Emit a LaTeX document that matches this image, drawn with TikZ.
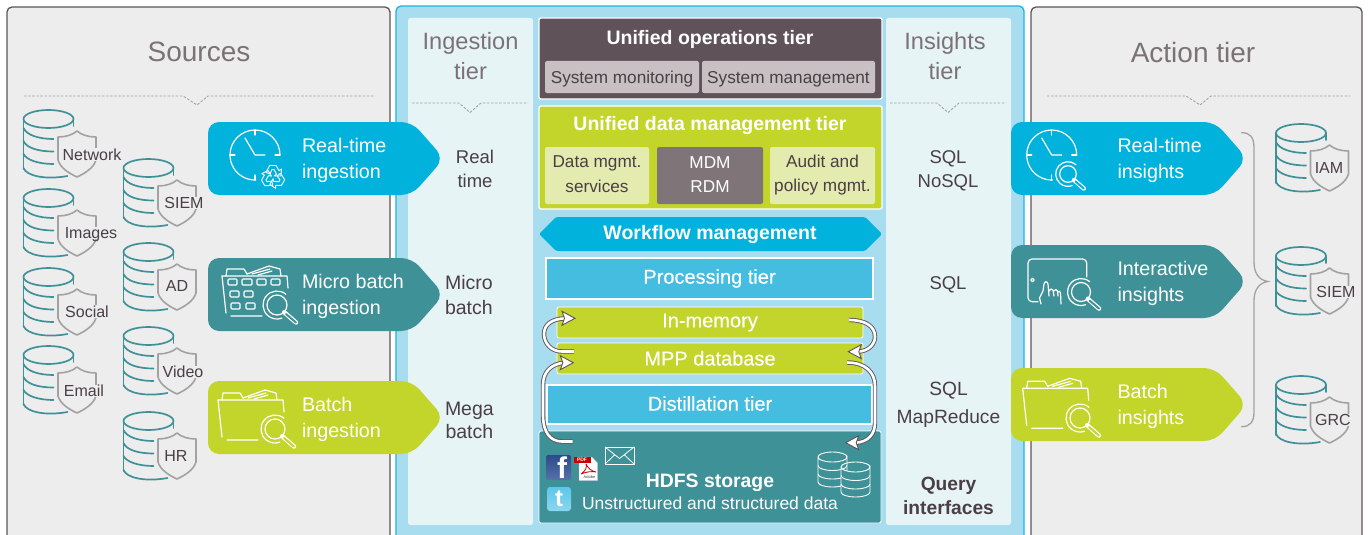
\documentclass[tikz,border=0pt]{standalone}
\usepackage{fontspec}
\setmainfont{Liberation Sans}
\newfontfamily\medfont[FakeBold=0.35]{Liberation Sans}
\definecolor{panel}{HTML}{EDEDED}
\definecolor{frame}{HTML}{5F5259}
\definecolor{sky}{HTML}{A8DDF0}
\definecolor{skyline}{HTML}{1DB5E0}
\definecolor{pale}{HTML}{E6F4F5}
\definecolor{blue}{HTML}{00B2DC}
\definecolor{midblue}{HTML}{45BDE0}
\definecolor{teal}{HTML}{3F9198}
\definecolor{lime}{HTML}{C3D52B}
\definecolor{palelime}{HTML}{E4EBAE}
\definecolor{ink}{HTML}{4A3F45}
\definecolor{shieldgrey}{HTML}{A2A2A4}
\definecolor{soft}{HTML}{C8C0C2}
\definecolor{mdm}{HTML}{7F7579}
\definecolor{title}{HTML}{7B7276}
\definecolor{fbtop}{HTML}{2C4A8A}
\definecolor{fbbot}{HTML}{5572A8}
\definecolor{twtop}{HTML}{5CC6EA}
\definecolor{twbot}{HTML}{8AD7F0}
\newcommand{\fsz}[1]{\fontsize{#1}{#1}\selectfont}
\newcommand{\fszl}[2]{\fontsize{#1}{#2}\selectfont}
\tikzset{
  x=1pt,y=-1pt,every node/.style={outer sep=0pt},
  paneli/.style={rounded corners=5pt,fill=panel,draw=frame,line width=1.3pt},
  column/.style={rounded corners=2.5pt,fill=pale},
  dashrule/.style={draw=shieldgrey,line width=0.9pt,dash pattern=on 2.5pt off 1.6pt},
  cyl/.style={draw=teal,line width=1.7pt,line cap=round},
  shield/.style={draw=shieldgrey,line width=1.6pt,line join=round},
  dblabel/.style={font=\fsz{16},text=ink,fill=panel,inner sep=0.3pt,text depth=0pt},
  chevtext/.style={font=\fszl{19.7}{25.5},text=white,align=left,anchor=west,inner sep=0},
  coltext/.style={font=\fszl{18.5}{24.5},text=ink,align=center,inner sep=0},
  coltitle/.style={font=\fszl{23.6}{30},text=title,align=center,inner sep=0},
  bigtitle/.style={font=\fsz{28},text=title,inner sep=0},
  tierbox/.style={rounded corners=2pt,draw=white,line width=1.4pt},
  subbox/.style={rounded corners=2pt},
  boxtext/.style={inner sep=0,align=center},
  boldtext/.style={boxtext,text=white,font=\fsz{19.5}\bfseries},
  sublabel/.style={boxtext,font=\fszl{17.2}{24.5}},
  stacktext/.style={boxtext,text=white,font=\fsz{20}\medfont},
  icon/.style={draw=white,line width=1.2pt,line cap=round,line join=round},
  flow/.style={draw=frame,double=white,double distance=2.6pt,line width=0.9pt},
}
\newcommand{\dbicon}[6]{% name, x, y, label, lx, ly
  \begin{scope}[shift={(#2,#3)}]
    \draw[cyl] (25,9) ellipse [x radius=25,y radius=9];
    \draw[cyl] (0,9) -- (0,59);
    \draw[cyl] (50,9) -- (50,16);
    \draw[cyl] (0,18) .. controls (3,25) and (15,29) .. (30,29);
    \draw[cyl] (0,31) .. controls (3,38) and (15,41.5) .. (30,41.5);
    \draw[cyl] (0,44) .. controls (3,50) and (15,54) .. (30,54);
    \draw[cyl] (0,58) .. controls (3,66) and (22,70) .. (44,66);
    \draw[shield,fill=panel] (34.5,27) .. controls (42,27) and (49,25) .. (53.5,21)
      .. controls (58,25) and (65,27) .. (72.5,27) -- (72.5,50)
      .. controls (70,58) and (62,63) .. (53.5,67)
      .. controls (45,63) and (37,58) .. (34.5,50) -- cycle;
  \end{scope}
  \node[dblabel] (#1) at (#5,#6) {#4};
}
\newcommand{\chev}[4]{% name,x,y,colour
  \begin{scope}[shift={(#2,#3)}]
    \fill[#4,rounded corners=11pt] (0,0) -- (204,0) -- (236,36.5) -- (204,73) -- (0,73) -- cycle;
    \coordinate (#1) at (94,38.5);
  \end{scope}
}
\newcommand{\clockicon}[2]{%
  \begin{scope}[shift={(#1,#2)}]
    \draw[icon] (25,0) arc [start angle=0,end angle=-272,radius=25];
    \draw[icon] (0,-25) -- (0,-20) (-25,0) -- (-20,0) (0,25) -- (0,20) (25,0) -- (20,0);
    \draw[icon] (-10,-17) -- (0,0) -- (10,0);
  \end{scope}
}
\newcommand{\magnifier}[4]{% x,y,radius,bg
  \begin{scope}[shift={(#1,#2)}]
    \draw[icon] (0,0) circle [radius=#3];
    \draw[icon] (0.64*#3+2.6,-0.77*#3-3) arc [start angle=-50,end angle=-290,radius=#3+4];
    \draw[white,line width=4.4pt,line cap=round] (0.72*#3,0.72*#3) -- (1.9*#3,1.75*#3);
    \draw[#4,line width=2pt,line cap=round] (0.9*#3,0.9*#3) -- (1.9*#3,1.75*#3);
  \end{scope}
}
\newcommand{\foldericon}[2]{%
  \begin{scope}[shift={(#1,#2)}]
    \draw[icon] (0,8) -- (4,45) (9,48) -- (40,48);
    \draw[icon] (0,8) -- (65,8) -- (66,20);
    \draw[icon] (4,8) -- (5,1) -- (22,1) -- (25,6);
    \draw[icon] (25,6) -- (47,-2) -- (58,1) -- (59,8) (30,6) -- (48,1) (36,7) -- (50,3);
  \end{scope}
}
\newcommand{\flowtip}[3]{\draw[fill=white,draw=frame,line width=0.9pt,line join=miter,shift={(#1,#2)},rotate=#3] (0,0) -- (-13,-7) -- (-10.5,0) -- (-13,7) -- cycle;}
\newcommand{\minidb}[2]{%
  \begin{scope}[shift={(#1,#2)}]
    \draw[draw=white,line width=0.9pt,fill=teal] (0,5) -- (0,30) arc [start angle=180,end angle=0,x radius=14.5,y radius=5] -- (29,5) arc [start angle=0,end angle=180,x radius=14.5,y radius=5];
    \draw[draw=white,line width=0.9pt] (0,5) arc [start angle=180,end angle=360,x radius=14.5,y radius=5]
      (0,13.5) arc [start angle=180,end angle=0,x radius=14.5,y radius=5]
      (0,22) arc [start angle=180,end angle=0,x radius=14.5,y radius=5];
  \end{scope}
}
\begin{document}
\begin{tikzpicture}
\useasboundingbox (0,0) rectangle (1368,535);
\fill[white] (0,0) rectangle (1368,535);
\begin{scope}
\clip (0,0) rectangle (1368,535);
\draw[paneli] (7,7) rectangle (390,550);
\draw[paneli] (1031,7) rectangle (1362,550);
\draw[rounded corners=5pt,fill=sky,draw=skyline,line width=1.3pt] (396,6) rectangle (1024,550);
\fill[column] (408,18) rectangle (533,525);
\fill[column] (886,18) rectangle (1011,525);
\end{scope}

\node[bigtitle] (tsources) at (199,52) {Sources};
\node[bigtitle] (taction) at (1193,52) {Action tier};
\node[coltitle] (tingest) at (470.5,56.5) {Ingestion\\tier};
\node[coltitle] (tinsight) at (945,56.5) {Insights\\tier};
\draw[dashrule] (24,96) -- (183,96) -- (197,105) -- (208,96) -- (375,96);
\draw[dashrule] (1047,96) -- (1186,96) -- (1200,105) -- (1211,96) -- (1350,96);
\draw[dashrule] (412,103) -- (459,103) -- (470,112.5) -- (481,103) -- (528,103);
\draw[dashrule] (890,103) -- (937,103) -- (948,112.5) -- (959,103) -- (1006,103);

\dbicon{dbnet}{23.5}{110}{Network}{92}{154.5}
\dbicon{dbimg}{23.5}{189}{Images}{91}{233}
\dbicon{dbsoc}{23.5}{268}{Social}{87}{311.5}
\dbicon{dbmail}{23.5}{346}{Email}{84}{391}
\dbicon{dbsiem}{123.5}{159}{SIEM}{184}{203}
\dbicon{dbad}{123.5}{243}{AD}{177}{286}
\dbicon{dbvid}{123.5}{327}{Video}{183}{372}
\dbicon{dbhr}{123.5}{412}{HR}{176}{456}
\dbicon{dbiam}{1276}{124}{IAM}{1329}{168}
\dbicon{dbsiemb}{1276}{247}{SIEM}{1336}{292}
\dbicon{dbgrc}{1276}{376}{GRC}{1333}{420}

\chev{crt}{208}{122}{blue}
\chev{cmb}{208}{258}{teal}
\chev{cb}{208}{381}{lime}
\node[chevtext] (trt) at (crt) {Real-time\\ingestion};
\node[chevtext] (tmb) at (cmb) {Micro batch\\ingestion};
\node[chevtext] (tb) at (cb) {Batch\\ingestion};
\chev{crti}{1011}{122}{blue}
\chev{cii}{1011}{245}{teal}
\chev{cbi}{1011}{368}{lime}
\node[chevtext,xshift=12.5] (trti) at (crti) {Real-time\\insights};
\node[chevtext,xshift=12.5] (tii) at (cii) {Interactive\\insights};
\node[chevtext,xshift=12.5] (tbi) at (cbi) {Batch\\insights};

\clockicon{255}{155}
\begin{scope}[shift={(273,177)}]
  \foreach \a in {0,120,240} {
    \draw[icon,line width=0.9pt,rotate=\a] (-7,-4.5) -- (-3.5,-11.5) -- (3,-11.5) -- (6,-6.5) -- (8.5,-8) -- (8,-1) -- (1.5,-1) -- (3.5,-3) -- (1,-7.5) -- (-1,-7.5) -- (-3,-3) -- cycle;
  }
\end{scope}
\foldericon{222}{268}
\draw[icon,rounded corners=1pt]
  (228,279) rectangle (237,285) (242,279) rectangle (252,285) (257,279) rectangle (266,285) (271,279) rectangle (280,285)
  (230,291) rectangle (239,297) (244,291) rectangle (253,297)
  (231,303) rectangle (240,309) (246,303) rectangle (255,309);
\magnifier{277}{305}{10}{teal}
\foldericon{218}{392}
\magnifier{275}{429}{10}{lime}
\clockicon{1051.7}{155}
\magnifier{1068}{174}{8.3}{blue}
\draw[icon,rounded corners=4pt] (1038,301.7) -- (1028,301.7) -- (1028,259) -- (1086.7,259) -- (1086.7,277);
\draw[icon] (1032.5,280) circle [radius=1.8];
\draw[icon] (1041,304) -- (1039.5,298) -- (1043,291) -- (1044,284) .. controls (1045,281) and (1047,281) .. (1048,284) -- (1049,296)
  (1049,291) .. controls (1050,288.5) and (1052,288.5) .. (1053,290) -- (1054,296)
  (1054,291) .. controls (1055,289) and (1056.5,289) .. (1057.5,291) -- (1058,296)
  (1058,292) .. controls (1059,290.5) and (1060,291) .. (1060.5,293) -- (1061,304);
\magnifier{1081}{292}{9.5}{teal}
\foldericon{1022.7}{380.3}
\magnifier{1080}{418}{10}{lime}

\draw[draw=shieldgrey,line width=1.3pt,line cap=round] (1241.5,132.7)
  .. controls (1250,132.7) and (1254,137) .. (1254,148) -- (1254,262)
  .. controls (1254,272) and (1258,280) .. (1268,281.5)
  .. controls (1258,283) and (1254,291) .. (1254,301) -- (1254,412)
  .. controls (1254,422) and (1250,426.7) .. (1241.5,426.7);

\node[coltext] (rt) at (475,169) {Real\\time};
\node[coltext,anchor=west,font=\fszl{19.5}{24.5}] (mb) at (445,295) {Micro\\batch};
\node[coltext,anchor=west,font=\fszl{19.5}{23.5}] (meb) at (445,420.5) {Mega\\batch};
\node[coltext] (qa) at (948,171) {SQL\\NoSQL};
\node[coltext] (qb) at (948,285) {SQL};
\node[coltext,font=\fszl{19.2}{28}] (qc) at (948.5,405) {SQL\\MapReduce};
\node[coltext,font=\fszl{19.2}{24}\bfseries] (qd) at (948.5,496) {Query\\interfaces};

\node[tierbox,fill=frame,minimum width=343,minimum height=81,anchor=north west] (ops) at (539,18) {};
\node[boldtext] (opst) at (710,39.5) {Unified operations tier};
\node[subbox,fill=soft,minimum width=154,minimum height=32,anchor=north west,inner sep=0,text=ink,font=\fsz{17.2},text depth=0pt] (mon) at (545,61) {System monitoring};
\node[subbox,fill=soft,minimum width=173,minimum height=32,anchor=north west,inner sep=0,text=ink,font=\fsz{17.2},text depth=0pt] (mgt) at (702,61) {System management};
\node[tierbox,fill=lime,minimum width=343,minimum height=103,anchor=north west] (dat) at (539,106) {};
\node[boldtext] (datt) at (710,126) {Unified data management tier};
\node[subbox,fill=palelime,minimum width=104,minimum height=57,anchor=north west] (dms) at (545,147) {};
\node[subbox,fill=mdm,minimum width=106,minimum height=57,anchor=north west] (mdmb) at (657,147) {};
\node[subbox,fill=palelime,minimum width=105,minimum height=57,anchor=north west] (aud) at (770,147) {};
\node[sublabel,text=ink] (dmst) at (597,174) {Data mgmt.\\services};
\node[sublabel,text=white] (mdmt) at (710,174.5) {MDM\\RDM};
\node[sublabel,text=ink] (audt) at (822.5,175) {Audit and\\policy mgmt.};
\fill[blue,rounded corners=1.5pt] (539,234) -- (556,217) -- (865,217) -- (882,234) -- (865,251) -- (556,251) -- cycle;
\node[boldtext] (wf) at (710,234.5) {Workflow management};
\node[draw=white,line width=1.5pt,fill=midblue,minimum width=327,minimum height=41,anchor=north west,stacktext] (proc) at (546,258) {Processing tier};
\node[tierbox,fill=lime,line width=0.8pt,minimum width=306,minimum height=31,anchor=north west,stacktext] (mem) at (557,307) {In-memory};
\node[tierbox,fill=lime,line width=0.8pt,minimum width=306,minimum height=31,anchor=north west] (mpp) at (557,343) {};
\node[stacktext] (mppt) at (710,358.3) {MPP database};
\node[draw=white,line width=1.5pt,fill=midblue,minimum width=325,minimum height=39,anchor=north west] (dist) at (547,385) {};
\node[stacktext] (distt) at (710,403.5) {Distillation tier};
\node[tierbox,fill=teal,line width=0.8pt,minimum width=342,minimum height=92,anchor=north west] (hdfs) at (539,431) {};
\node[boxtext,text=white,font=\fsz{19.4}\bfseries] (hdfst) at (710,483) {HDFS storage};
\node[boxtext,text=white,font=\fsz{17.5}] (hdfss) at (710,503.5) {Unstructured and structured data};

\coordinate (a1s) at (574,351.5);
\coordinate (a1e) at (565,318.3);
\coordinate (a2s) at (572.5,441.5);
\coordinate (a2e) at (564,362.7);
\coordinate (a3s) at (849,320);
\coordinate (a3e) at (858,351.7);
\coordinate (a4s) at (847,362.5);
\coordinate (a4e) at (856,442.7);
\draw[flow] (a1s) -- (562,351.5) .. controls (551,351.5) and (544,343) .. (544,334) .. controls (544,325) and (551,319) .. (a1e);
\draw[flow] (a2s) -- (562,441.5) .. controls (550,441.5) and (543,432) .. (543,415) -- (543,385) .. controls (543,372) and (551,364) .. (a2e);
\draw[flow] (a3s) .. controls (865,320) and (875,326) .. (875,336.7) .. controls (875,344) and (869,351) .. (a3e);
\draw[flow] (a4s) .. controls (865,362.5) and (875,372) .. (875,386) -- (875,423) .. controls (875,434) and (868,442) .. (a4e);
\flowtip{575}{318.3}{0}
\flowtip{573.3}{362.7}{0}
\flowtip{848.3}{351.7}{180}
\flowtip{845.7}{442.7}{180}

\draw[draw=white,line width=0.8pt,line join=miter] (605,447) rectangle (634,464);
\draw[draw=white,line width=0.8pt] (605,447) -- (619.5,458.5) -- (634,447) (605,464) -- (615,454.5) (634,464) -- (624,454.5);
\shade[rounded corners=1.5pt,top color=fbtop,bottom color=fbbot] (546,455) rectangle (571,480);
\shade[rounded corners=3pt,top color=twtop,bottom color=twbot] (547,487) rectangle (571,511);
\begin{scope}
\clip (546,455) rectangle (571,480);
\node[inner sep=0,text=white,font=\fsz{30}\bfseries] (fb) at (562,468) {f};
\end{scope}
\node[inner sep=0,text=white,font=\fsz{24}\bfseries] (tw) at (559,499) {t};
\filldraw[fill=white,draw=gray!60,line width=0.4pt] (579,457) -- (592,457) -- (597.5,463) -- (597.5,480.5) -- (579,480.5) -- cycle;
\fill[red!80!black] (574,456.5) rectangle (590.5,463);
\node[inner sep=0,text=white,font=\fsz{5}\bfseries] (pdf) at (582,459.8) {PDF};
\draw[red!80!black,line width=0.8pt,line join=round] (581,474) .. controls (586,470) and (587,468) .. (586,464) .. controls (588,468) and (591,471) .. (596,472) .. controls (591,471) and (586,472) .. (581,474);
\node[inner sep=0,text=ink,font=\fsz{4}] (adobe) at (589.5,477) {Adobe};
\minidb{818}{452}
\minidb{841}{462}
\end{tikzpicture}
\end{document}
